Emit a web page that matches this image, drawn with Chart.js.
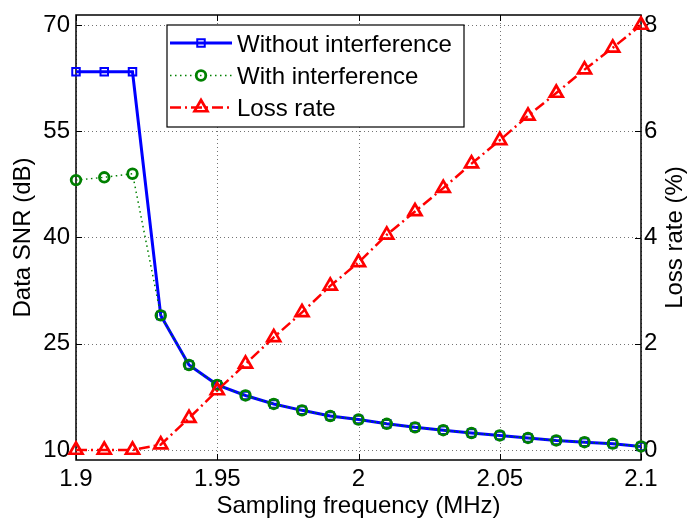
<!DOCTYPE html>
<html lang="en">
<head>
    <meta charset="UTF-8">
    <title>Data SNR vs sampling frequency</title>
    <script src="https://cdn.jsdelivr.net/npm/chart.js"></script>
    <style>
        body { margin: 0; background: #fff; }
    </style>
</head>
<body>
    <div style="width: 689px; height: 519px;">
        <canvas id="grafico"></canvas>
    </div>

    <script>
        // values
        const freq = [1.90, 1.91, 1.92, 1.93, 1.94, 1.95, 1.96, 1.97, 1.98, 1.99, 2.00,
                      2.01, 2.02, 2.03, 2.04, 2.05, 2.06, 2.07, 2.08, 2.09, 2.10]
        const snrWithout = [63.4, 63.4, 63.4, 29.0, 22.0, 19.2, 17.7, 16.5, 15.6, 14.8, 14.3,
                            13.7, 13.2, 12.8, 12.4, 12.05, 11.7, 11.35, 11.1, 10.9, 10.5]
        const snrWith = [48.1, 48.5, 49.0, 29.0, 22.0, 19.2, 17.7, 16.5, 15.6, 14.8, 14.3,
                         13.7, 13.2, 12.8, 12.4, 12.05, 11.7, 11.35, 11.1, 10.9, 10.5]
        const lossRate = [0.0, 0.0, 0.0, 0.1, 0.6, 1.12, 1.62, 2.12, 2.59, 3.09, 3.53,
                          4.05, 4.49, 4.93, 5.39, 5.83, 6.29, 6.72, 7.16, 7.57, 8.0]

        const xTicks = [1.9, 1.95, 2, 2.05, 2.1]
        const snrTicks = [10, 25, 40, 55, 70]
        const lossTicks = [0, 2, 4, 6, 8]

        const FONT = 'Liberation Sans, Arial, Helvetica, sans-serif'
        const FSIZE = 24
        const pts = (ys) => freq.map((f, i) => ({ x: f, y: ys[i] }))

        // grid, box and inner tick marks (matlab style)
        const axesBox = {
            id: 'axesBox',
            beforeDatasetsDraw(chart) {
                const { ctx, chartArea: a, scales } = chart
                ctx.save()
                ctx.strokeStyle = 'rgba(0,0,0,0.55)'
                ctx.lineWidth = 1
                ctx.setLineDash([1, 3])
                xTicks.forEach(v => {
                    const px = Math.round(scales.x.getPixelForValue(v)) + 0.5
                    ctx.beginPath(); ctx.moveTo(px, a.top); ctx.lineTo(px, a.bottom); ctx.stroke()
                })
                snrTicks.forEach(v => {
                    const py = Math.round(scales.y.getPixelForValue(v)) + 0.5
                    ctx.beginPath(); ctx.moveTo(a.left, py); ctx.lineTo(a.right, py); ctx.stroke()
                })
                ctx.setLineDash([])
                ctx.strokeStyle = '#000'
                ctx.lineWidth = 1.5
                ctx.strokeRect(a.left, a.top, a.right - a.left, a.bottom - a.top)
                ctx.lineWidth = 1
                const tl = 6
                xTicks.forEach(v => {
                    const px = Math.round(scales.x.getPixelForValue(v)) + 0.5
                    ctx.beginPath(); ctx.moveTo(px, a.bottom); ctx.lineTo(px, a.bottom - tl); ctx.stroke()
                    ctx.beginPath(); ctx.moveTo(px, a.top); ctx.lineTo(px, a.top + tl); ctx.stroke()
                })
                snrTicks.forEach(v => {
                    const py = Math.round(scales.y.getPixelForValue(v)) + 0.5
                    ctx.beginPath(); ctx.moveTo(a.left, py); ctx.lineTo(a.left + tl, py); ctx.stroke()
                })
                lossTicks.forEach(v => {
                    const py = Math.round(scales.y2.getPixelForValue(v)) + 0.5
                    ctx.beginPath(); ctx.moveTo(a.right, py); ctx.lineTo(a.right - tl, py); ctx.stroke()
                })
                ctx.restore()
            },
            afterDraw(chart) {
                const { ctx, chartArea: a } = chart
                // right axis title, reading bottom to top
                ctx.save()
                ctx.translate(675, (a.top + a.bottom) / 2)
                ctx.rotate(-Math.PI / 2)
                ctx.font = FSIZE + 'px ' + FONT
                ctx.fillStyle = '#000'
                ctx.textAlign = 'center'
                ctx.textBaseline = 'middle'
                ctx.fillText('Loss rate (%)', 0, 0)
                ctx.restore()
            }
        }

        const drawMarker = (ctx, style, x, y, r) => {
            ctx.beginPath()
            if (style === 'rect') {
                const s = r * Math.SQRT1_2
                ctx.rect(x - s, y - s, 2 * s, 2 * s)
            } else if (style === 'circle') {
                ctx.arc(x, y, r, 0, Math.PI * 2)
            } else {
                ctx.moveTo(x, y - r)
                ctx.lineTo(x + r * 0.866, y + r / 2)
                ctx.lineTo(x - r * 0.866, y + r / 2)
                ctx.closePath()
            }
            ctx.stroke()
        }

        // legend box like the matlab one
        const boxLegend = {
            id: 'boxLegend',
            afterDraw(chart) {
                const { ctx } = chart
                const left = 167, top = 25, right = 464, bottom = 127
                ctx.save()
                ctx.fillStyle = '#fff'
                ctx.fillRect(left, top, right - left, bottom - top)
                ctx.strokeStyle = '#000'
                ctx.lineWidth = 1.2
                ctx.strokeRect(left, top, right - left, bottom - top)
                const rows = [43, 75.5, 107.5]
                const order = ['blue', 'green', 'red']
                order.forEach((key, i) => {
                    const ds = chart.data.datasets.find(d => d.key === key)
                    const y = rows[i]
                    ctx.strokeStyle = ds.borderColor
                    ctx.lineWidth = ds.borderWidth
                    ctx.setLineDash(ds.borderDash || [])
                    ctx.beginPath(); ctx.moveTo(170, y); ctx.lineTo(232, y); ctx.stroke()
                    ctx.setLineDash([])
                    ctx.lineWidth = ds.pointBorderWidth
                    drawMarker(ctx, ds.pointStyle, 201, y, ds.pointRadius)
                    ctx.fillStyle = '#000'
                    ctx.font = FSIZE + 'px ' + FONT
                    ctx.textAlign = 'left'
                    ctx.textBaseline = 'alphabetic'
                    ctx.fillText(ds.label, 237, y + 8.6)
                })
                ctx.restore()
            }
        }

        const noEdgePad = s => { s.paddingTop = 0; s.paddingBottom = 0 }

        const ctx = document.getElementById('grafico')

        const grafico = new Chart(ctx, {
            type: 'line',
            data: {
                datasets: [
                    {
                        key: 'red',
                        label: 'Loss rate',
                        data: pts(lossRate),
                        yAxisID: 'y2',
                        order: 0,
                        borderColor: '#ff0000',
                        borderWidth: 2.5,
                        borderDash: [11, 4, 2, 4],
                        pointStyle: 'triangle',
                        pointRadius: 7.5,
                        pointBorderWidth: 2.7,
                        pointBorderColor: '#ff0000',
                        pointBackgroundColor: 'rgba(0,0,0,0)',
                        clip: false
                    },
                    {
                        key: 'green',
                        label: 'With interference',
                        data: pts(snrWith),
                        yAxisID: 'y',
                        order: 1,
                        borderColor: '#008000',
                        borderWidth: 1.5,
                        borderDash: [1.5, 3.5],
                        pointStyle: 'circle',
                        pointRadius: 4.8,
                        pointBorderWidth: 2.8,
                        pointBorderColor: '#008000',
                        pointBackgroundColor: 'rgba(0,0,0,0)',
                        clip: false
                    },
                    {
                        key: 'blue',
                        label: 'Without interference',
                        data: pts(snrWithout),
                        yAxisID: 'y',
                        order: 2,
                        borderColor: '#0000ff',
                        borderWidth: 3,
                        pointStyle: 'rect',
                        pointRadius: 5.3,
                        pointBorderWidth: 2,
                        pointBorderColor: '#0000ff',
                        pointBackgroundColor: 'rgba(0,0,0,0)',
                        clip: false
                    }
                ]
            },
            options: {
                responsive: true,
                maintainAspectRatio: false,
                animation: false,
                layout: { padding: { top: 15 } },
                plugins: {
                    legend: { display: false },
                    tooltip: { enabled: false }
                },
                scales: {
                    x: {
                        type: 'linear',
                        position: 'bottom',
                        min: 1.9,
                        max: 2.1,
                        afterBuildTicks: s => { s.ticks = xTicks.map(v => ({ value: v })) },
                        afterFit: s => { s.height = 59; s.paddingLeft = 0; s.paddingRight = 0 },
                        grid: { display: false, drawTicks: false },
                        border: { display: false },
                        ticks: {
                            color: '#000',
                            font: { family: FONT, size: FSIZE },
                            padding: 5,
                            maxRotation: 0,
                            autoSkip: false,
                            callback: v => String(v)
                        },
                        title: {
                            display: true,
                            text: 'Sampling frequency (MHz)',
                            color: '#000',
                            font: { family: FONT, size: FSIZE },
                            padding: { top: 0, bottom: -2 }
                        }
                    },
                    y: {
                        position: 'left',
                        min: 8.59,
                        max: 71.41,
                        afterBuildTicks: s => { s.ticks = snrTicks.map(v => ({ value: v })) },
                        afterFit: s => { s.width = 76; noEdgePad(s) },
                        grid: { display: false, drawTicks: false },
                        border: { display: false },
                        ticks: {
                            color: '#000',
                            font: { family: FONT, size: FSIZE },
                            padding: 6
                        },
                        title: {
                            display: true,
                            text: 'Data SNR (dB)',
                            color: '#000',
                            font: { family: FONT, size: FSIZE },
                            padding: { top: 9, bottom: 0 }
                        }
                    },
                    y2: {
                        position: 'right',
                        min: -0.188,
                        max: 8.188,
                        afterBuildTicks: s => { s.ticks = lossTicks.map(v => ({ value: v })) },
                        afterFit: s => { s.width = 48; noEdgePad(s) },
                        grid: { display: false, drawTicks: false },
                        border: { display: false },
                        ticks: {
                            color: '#000',
                            font: { family: FONT, size: FSIZE },
                            padding: 3
                        }
                    }
                }
            },
            plugins: [axesBox, boxLegend]
        })
    </script>
</body>
</html>
